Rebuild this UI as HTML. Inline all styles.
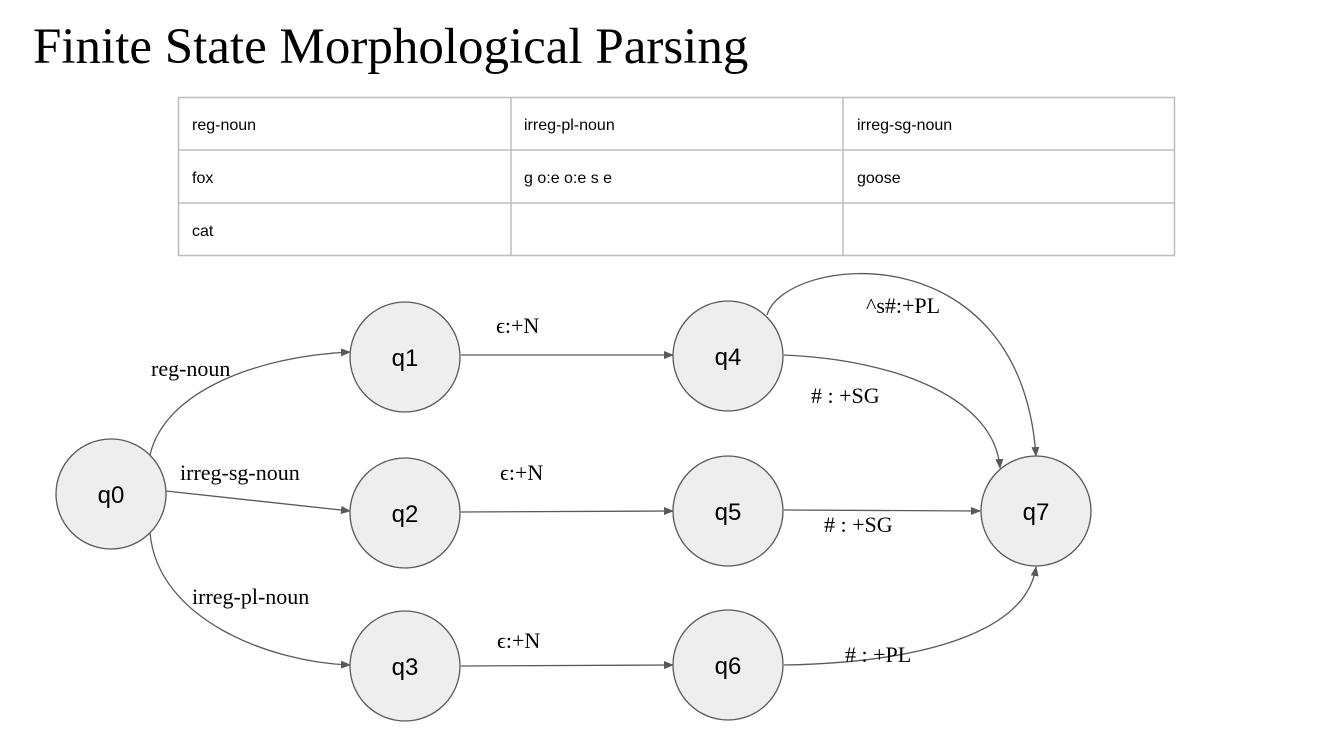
<!DOCTYPE html>
<html><head><style>
body{margin:0;width:1326px;height:736px;background:#fff;overflow:hidden;position:relative;font-family:"Liberation Sans",sans-serif}
.title{position:absolute;left:33px;top:18px;font-family:"Liberation Serif",serif;font-size:51px;color:#000;white-space:nowrap}
</style></head><body>
<div class="title">Finite State Morphological Parsing</div>
<svg width="1326" height="736" style="position:absolute;left:0;top:0">
<defs><marker id="a" markerWidth="10" markerHeight="8" refX="9" refY="4" orient="auto" markerUnits="userSpaceOnUse"><path d="M0,0 L10,4 L0,8 z" fill="#595959"/></marker></defs>
<g stroke="#bdbdbd" stroke-width="1.5" fill="none">
<rect x="178.5" y="97.5" width="996" height="158"/>
<line x1="178" y1="150" x2="1175" y2="150"/><line x1="178" y1="203" x2="1175" y2="203"/>
<line x1="511" y1="97" x2="511" y2="256"/><line x1="843" y1="97" x2="843" y2="256"/>
</g>
<g font-family="Liberation Sans, sans-serif" font-size="16" fill="#000">
<text x="192" y="130">reg-noun</text><text x="524" y="130">irreg-pl-noun</text><text x="857" y="130">irreg-sg-noun</text>
<text x="192" y="183">fox</text><text x="524" y="183">g o:e o:e s e</text><text x="857" y="183">goose</text>
<text x="192" y="236">cat</text>
</g>
<g stroke="#595959" stroke-width="1.3" fill="none" marker-end="url(#a)">
<path d="M150,455 C165,390 260,356 350,352"/>
<path d="M166,491 L350,511"/>
<path d="M150,533 C158,620 270,662 350,665"/>
<path d="M461,355 L673,355"/>
<path d="M461,512 L673,511"/>
<path d="M461,666 L673,665"/>
<path d="M767,315 C785,255 1020,230 1036,456"/>
<path d="M784,355 C900,360 995,400 1000,468"/>
<path d="M784,510 L980,511"/>
<path d="M784,665 C900,663 1025,640 1036,567"/>
</g>
<g fill="#eeeeee" stroke="#595959" stroke-width="1.3">
<circle cx="111" cy="494" r="55"/><circle cx="405" cy="357" r="55"/><circle cx="405" cy="513" r="55"/><circle cx="405" cy="666" r="55"/>
<circle cx="728" cy="356" r="55"/><circle cx="728" cy="511" r="55"/><circle cx="728" cy="665" r="55"/><circle cx="1036" cy="511" r="55"/>
</g>
<g font-family="Liberation Sans, sans-serif" font-size="24" fill="#000" text-anchor="middle">
<text x="111" y="503">q0</text><text x="405" y="366">q1</text><text x="405" y="522">q2</text><text x="405" y="675">q3</text>
<text x="728" y="365">q4</text><text x="728" y="520">q5</text><text x="728" y="674">q6</text><text x="1036" y="520">q7</text>
</g>
<g font-family="Liberation Serif, serif" font-size="22" fill="#000">
<text x="151" y="376">reg-noun</text><text x="180" y="480">irreg-sg-noun</text><text x="192" y="604">irreg-pl-noun</text>
<text x="496" y="333">ϵ:+N</text><text x="500" y="480">ϵ:+N</text><text x="497" y="648">ϵ:+N</text>
<text x="866" y="313">^s#:+PL</text><text x="811" y="403">#&#160;:&#160;+SG</text><text x="824" y="532">#&#160;:&#160;+SG</text><text x="845" y="662">#&#160;:&#160;+PL</text>
</g>
</svg>
</body></html>
